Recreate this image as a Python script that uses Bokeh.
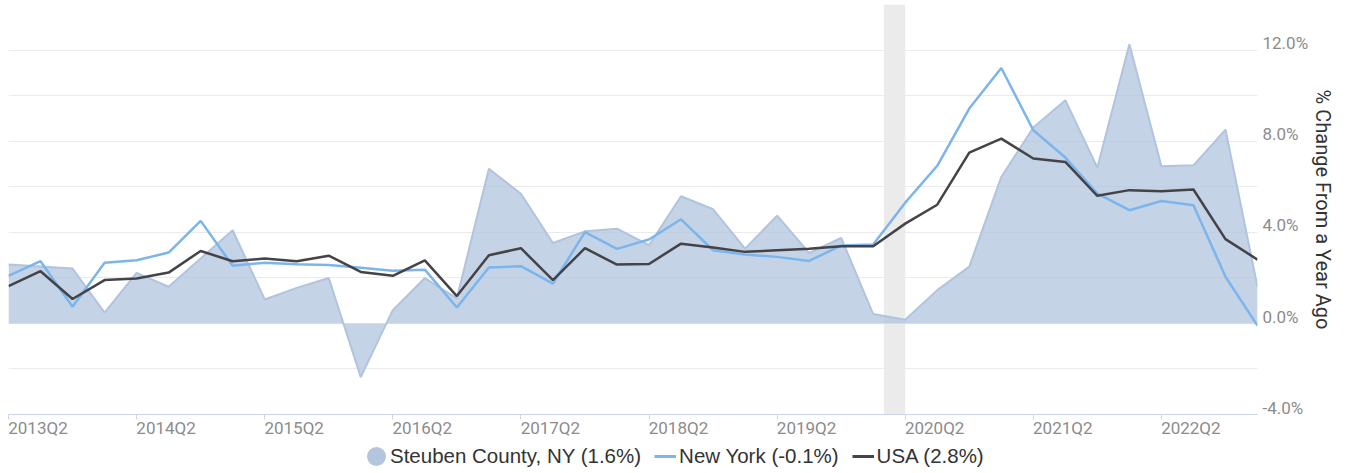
from bokeh.plotting import figure
from bokeh.layouts import column
from bokeh.models import (ColumnDataSource, FixedTicker, Range1d, BoxAnnotation, Legend,
                          LegendItem)
from bokeh.embed import file_html
from bokeh.resources import INLINE

quarters = ["2013Q2", "2013Q3", "2013Q4", "2014Q1", "2014Q2", "2014Q3", "2014Q4", "2015Q1",
            "2015Q2", "2015Q3", "2015Q4", "2016Q1", "2016Q2", "2016Q3", "2016Q4", "2017Q1",
            "2017Q2", "2017Q3", "2017Q4", "2018Q1", "2018Q2", "2018Q3", "2018Q4", "2019Q1",
            "2019Q2", "2019Q3", "2019Q4", "2020Q1", "2020Q2", "2020Q3", "2020Q4", "2021Q1",
            "2021Q2", "2021Q3", "2021Q4", "2022Q1", "2022Q2", "2022Q3", "2022Q4", "2023Q1"]

steuben = [2.58, 2.50, 2.41, 0.47, 2.22, 1.61, 2.85, 4.09, 1.05, 1.56,
           1.99, -2.36, 0.58, 1.99, 1.10, 6.79, 5.69, 3.53, 4.04, 4.16,
           3.43, 5.58, 5.01, 3.28, 4.73, 3.09, 3.75, 0.41, 0.16, 1.46,
           2.49, 6.43, 8.60, 9.80, 6.84, 12.25, 6.90, 6.94, 8.51, 1.60]

new_york = [2.09, 2.73, 0.73, 2.66, 2.77, 3.11, 4.50, 2.53, 2.66, 2.60,
            2.56, 2.44, 2.31, 2.36, 0.70, 2.45, 2.51, 1.75, 4.01, 3.27,
            3.68, 4.57, 3.21, 3.02, 2.92, 2.74, 3.42, 3.46, 5.30, 6.92,
            9.43, 11.21, 8.48, 7.28, 5.70, 4.97, 5.37, 5.19, 2.05, -0.10]

usa = [1.64, 2.29, 1.07, 1.90, 1.97, 2.23, 3.18, 2.73, 2.85, 2.73,
       2.97, 2.26, 2.09, 2.77, 1.20, 2.99, 3.30, 1.90, 3.30, 2.58,
       2.61, 3.50, 3.33, 3.14, 3.21, 3.28, 3.39, 3.39, 4.38, 5.21,
       7.50, 8.11, 7.24, 7.09, 5.60, 5.85, 5.80, 5.88, 3.70, 2.80]

tick_labels = ["2013Q2", "2014Q2", "2015Q2", "2016Q2", "2017Q2",
               "2018Q2", "2019Q2", "2020Q2", "2021Q2", "2022Q2"]
y_ticks = [-4, 0, 4, 8, 12]
y_grid = [-4, -2, 0, 2, 4, 6, 8, 10, 12, 14]
legend_labels = ["Steuben County, NY (1.6%)", "New York (-0.1%)", "USA (2.8%)"]
recession = ("2020-02", "2020-04")   # year-month, shaded period
y_title = "% Change From a Year Ago"

C_AREA = "#b0c4de"
C_NY = "#7cb5ec"
C_USA = "#434348"


def month_to_x(ym):
    y, m = ym.split("-")
    return (int(y) - 2013) * 4 + (int(m) - 4) / 3.0


x = list(range(len(quarters)))
src = ColumnDataSource(dict(x=x, steuben=steuben, ny=new_york, usa=usa))

p = figure(width=1348, height=441, output_backend="svg", toolbar_location=None,
           x_range=Range1d(0, len(quarters) - 1), y_range=Range1d(-4, 14),
           y_axis_location="right",
           min_border_left=8, min_border_top=4, min_border_right=91, min_border_bottom=27)
p.outline_line_color = None
p.background_fill_color = "white"

p.add_layout(BoxAnnotation(left=month_to_x(recession[0]), right=month_to_x(recession[1]),
                           fill_color="#ebebeb", fill_alpha=1.0, line_color=None,
                           level="underlay"))

p.varea(x="x", y1=0, y2="steuben", source=src, fill_color=C_AREA, fill_alpha=0.75)
p.line("x", "steuben", source=src, line_color=C_AREA, line_width=2)
p.line("x", "ny", source=src, line_color=C_NY, line_width=2.5)
p.line("x", "usa", source=src, line_color=C_USA, line_width=2.5)

# x axis: labels start at the tick (left aligned look)
tick_pos = [quarters.index(t) for t in tick_labels]
label_pos = [round(t + 0.92, 2) for t in tick_pos]
xa = p.xaxis[0]
xa.ticker = FixedTicker(ticks=label_pos, minor_ticks=tick_pos)
xa.major_label_overrides = {lp: lab for lp, lab in zip(label_pos, tick_labels)}
xa.major_tick_line_color = None
xa.major_tick_out = 0
xa.major_tick_in = 0
xa.minor_tick_line_color = "#ccd6eb"
xa.minor_tick_out = 5
xa.minor_tick_in = 0
xa.axis_line_color = "#ccd6eb"
xa.major_label_standoff = -2
xa.major_label_text_font = "Roboto"
xa.major_label_text_font_size = "17px"
xa.major_label_text_color = "#8c8c8c"
p.xgrid.grid_line_color = None

# y axis on the right: labels sit slightly above their grid lines
ylab_pos = [round(v + 0.3, 2) for v in y_ticks]
ya = p.yaxis[0]
ya.ticker = FixedTicker(ticks=ylab_pos)
ya.major_label_overrides = {lp: "%.1f%%" % v for lp, v in zip(ylab_pos, y_ticks)}
ya.major_tick_line_color = None
ya.minor_tick_line_color = None
ya.major_tick_out = 0
ya.axis_line_color = None
ya.major_label_standoff = 5
ya.major_label_text_font = "Roboto"
ya.major_label_text_font_size = "17px"
ya.major_label_text_color = "#8c8c8c"
ya.axis_label = y_title
ya.axis_label_text_font = "Roboto"
ya.axis_label_text_font_size = "20px"
ya.axis_label_text_font_style = "normal"
ya.axis_label_text_color = "#333333"
ya.axis_label_standoff = 0
p.ygrid.ticker = FixedTicker(ticks=y_grid)
p.ygrid.grid_line_color = "#ebebeb"

# legend strip below the chart (its renderers lie outside this strip's visible range)
lg = figure(width=1348, height=32, output_backend="svg", toolbar_location=None,
            x_axis_type=None, y_axis_type=None,
            x_range=Range1d(1000, 1001), y_range=Range1d(1000, 1001),
            min_border_left=0, min_border_top=0, min_border_right=0, min_border_bottom=0)
lg.outline_line_color = None
r_leg = lg.scatter("x", "steuben", source=src, marker="circle", size=8,
                   fill_color="#b4c6dd", line_color="#b4c6dd", line_width=11)
r_ny = lg.line("x", "ny", source=src, line_color=C_NY, line_width=3)
r_usa = lg.line("x", "usa", source=src, line_color=C_USA, line_width=3)

legend = Legend(items=[LegendItem(label=legend_labels[0], renderers=[r_leg], index=0),
                       LegendItem(label=legend_labels[1], renderers=[r_ny]),
                       LegendItem(label=legend_labels[2], renderers=[r_usa])],
                orientation="horizontal", location=(357, 5),
                glyph_width=22, glyph_height=20, label_height=20, label_standoff=3,
                spacing=13, padding=0, margin=0,
                border_line_color=None, background_fill_alpha=0,
                label_text_font="Liberation Sans", label_text_font_size="20.5px",
                label_text_color="#333333")
lg.add_layout(legend, "center")

layout = column(p, lg, spacing=0)
open("out.html", "w").write(file_html(layout, INLINE))
